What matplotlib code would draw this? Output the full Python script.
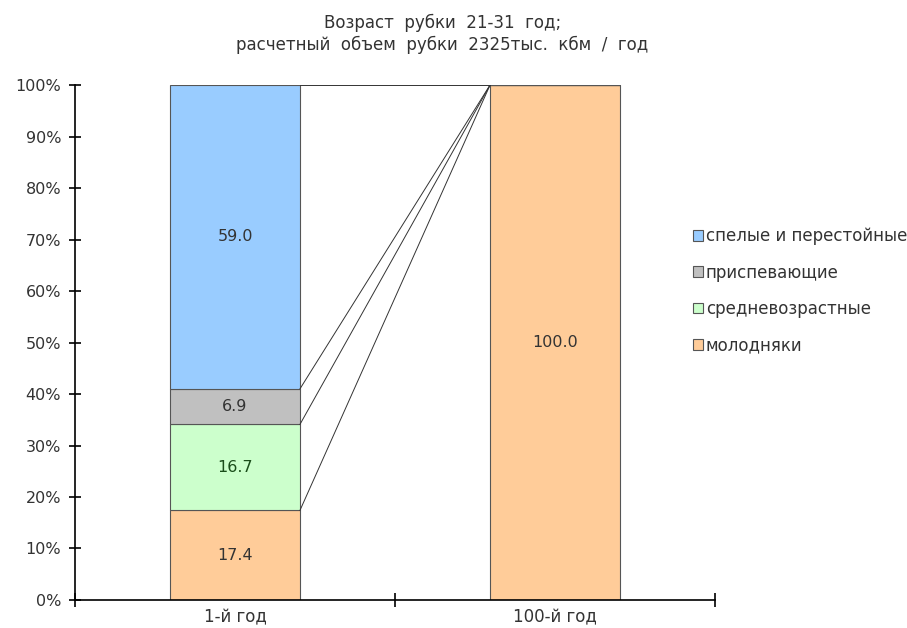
import matplotlib
matplotlib.use('Agg')
import matplotlib.pyplot as plt
import numpy as np

plt.rcParams['font.family'] = ['DejaVu Sans']

categories = ['1-й год', '100-й год']
series_names = ['молодняки', 'средневозрастные', 'приспевающие', 'спелые и перестойные']
molodnyaki = [17.4, 100.0]
srednevozr = [16.7, 0.0]
prispev = [6.9, 0.0]
spelye = [59.0, 0.0]
colors = ['#FFCC99', '#CCFFCC', '#C0C0C0', '#99CCFF']
text_colors = ['#333333', '#1a4d1a', '#333333', '#333333']

fig = plt.figure(figsize=(9.07, 6.28), dpi=100)
ax = fig.add_axes([0.0827, 0.0446, 0.7056, 0.82])

x = np.arange(len(categories))
width = 0.406
data = [molodnyaki, srednevozr, prispev, spelye]
bottom = np.zeros(len(categories))
handles = []
tops = []
for vals, name, c, tc in zip(data, series_names, colors, text_colors):
    vals = np.array(vals)
    b = ax.bar(x, vals, width, bottom=bottom, color=c, edgecolor='#555555',
               linewidth=0.8, label=name)
    handles.append(b)
    for xi, v, bt in zip(x, vals, bottom):
        if v > 0:
            ax.text(xi, bt + v / 2, f'{v:.1f}', ha='center', va='center',
                    fontsize=11.5, color=tc)
    bottom = bottom + vals
    tops.append(bottom.copy())

# series lines between bars
for t in tops:
    ax.plot([x[0] + width / 2, x[1] - width / 2], [t[0], t[1]],
            color='#333333', linewidth=0.7, zorder=1)

ax.set_xlim(-0.5, 1.5)
ax.set_ylim(0, 100)
ax.set_yticks(np.arange(0, 101, 10))
ax.set_yticklabels([f'{v}%' for v in range(0, 101, 10)], fontsize=11.5, color='#333333')
ax.set_xticks([-0.5, 0.5, 1.5], minor=False)
ax.set_xticklabels(['', '', ''])
ax.set_xticks(x, minor=True)
ax.set_xticklabels(categories, minor=True, fontsize=12, color='#333333')
ax.tick_params(axis='x', which='minor', length=0, pad=6)
ax.tick_params(axis='x', which='major', direction='inout', length=10, width=1.2)
ax.tick_params(axis='y', direction='inout', length=8, width=1.2, pad=6)
for s in ['top', 'right']:
    ax.spines[s].set_visible(False)
ax.spines['left'].set_linewidth(1.2)
ax.spines['bottom'].set_linewidth(1.2)

fig.legend(handles[::-1], series_names[::-1], loc='center left',
           bbox_to_anchor=(0.748, 0.537), frameon=False, fontsize=12,
           handlelength=0.6, handleheight=0.6, handletextpad=0.15,
           labelspacing=1.1, labelcolor='#333333')

fig.text(0.488, 0.978, 'Возраст  рубки  21-31  год;\nрасчетный  объем  рубки  2325тыс.  кбм  /  год',
         ha='center', va='top', fontsize=12, color='#333333', linespacing=1.25)

fig.savefig('out.png', dpi=100)
